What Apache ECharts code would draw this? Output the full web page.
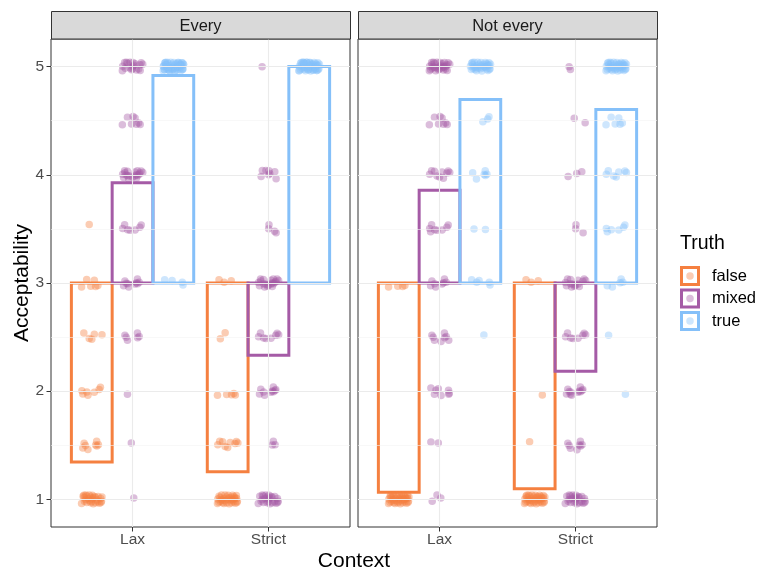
<!DOCTYPE html>
<html>
<head>
<meta charset="utf-8">
<script src="https://cdn.jsdelivr.net/npm/echarts@6/dist/echarts.min.js"></script>
<style>html,body{margin:0;padding:0;background:#fff}#c{width:759px;height:570px}</style>
</head>
<body>
<div id="c"></div>
<script>
// ---------- data ----------
const facets = ['Every', 'Not every'];
const contexts = ['Lax', 'Strict'];
const truths = ['false', 'mixed', 'true'];
const levels = [1, 1.5, 2, 2.5, 3, 3.5, 4, 4.5, 5];
const yTicks = [1, 2, 3, 4, 5];

// mean acceptability (box drawn from 3 to mean), order: false, mixed, true
const meanEveryLax = [1.345, 3.926, 4.917];
const meanEveryStrict = [1.256, 2.333, 5.0];
const meanNotLax = [1.067, 3.857, 4.695];
const meanNotStrict = [1.099, 2.185, 4.603];

// number of responses at each level (levels 1..5 by 0.5)
const everyLaxFalse = [30, 8, 7, 5, 6, 1, 0, 0, 0];
const everyLaxMixed = [1, 1, 1, 6, 10, 7, 20, 8, 20];
const everyLaxTrue = [0, 0, 0, 0, 4, 0, 0, 0, 60];
const everyStrictFalse = [35, 9, 5, 2, 3, 0, 0, 0, 0];
const everyStrictMixed = [25, 3, 10, 8, 20, 4, 8, 0, 1];
const everyStrictTrue = [0, 0, 0, 0, 0, 0, 0, 0, 50];
const notLaxFalse = [40, 0, 0, 0, 4, 0, 0, 0, 0];
const notLaxMixed = [3, 2, 8, 8, 8, 8, 10, 8, 30];
const notLaxTrue = [0, 0, 0, 1, 5, 2, 6, 3, 35];
const notStrictFalse = [40, 1, 1, 0, 3, 0, 0, 0, 0];
const notStrictMixed = [25, 8, 12, 8, 15, 3, 3, 2, 2];
const notStrictTrue = [0, 0, 1, 1, 5, 6, 7, 6, 40];

// fixed jitter pattern (normalised, hand-typed)
const jitterPattern = [
  [-0.75,0.45],[0.38,-0.8],[0.88,0.2],[-0.25,-0.3],[0.62,0.7],[-0.88,-0.65],[0.05,0.95],[0.5,-0.15],
  [-0.5,0.8],[0.95,-0.45],[-0.97,0.1],[0.12,0.3],[-0.38,-0.95],[0.75,-0.9],[-0.62,-0.05],[0.25,0.65],
  [-0.12,0.55],[0.85,0.9],[-0.72,-0.4],[0.38,0.05],[0.6,-0.55],[-0.5,-0.7],[0.0,-0.5],[-0.85,0.75],
  [0.72,0.4],[-0.25,1.0],[0.48,0.95],[-1.0,-0.95],[0.15,-1.0],[1.0,0.55],[-0.35,0.2],[0.25,-0.25],
  [-0.6,1.0],[0.65,0.15],[-0.1,-0.75],[0.9,-0.7],[-0.78,0.95],[0.35,0.5],[-0.48,-0.2],[0.02,0.02]
];
const JX = 0.075, JY = 0.04;

const colors = ['#F58040', '#A55BA6', '#85C0F9'];
const countsByFacet = [
  [[everyLaxFalse, everyLaxMixed, everyLaxTrue], [everyStrictFalse, everyStrictMixed, everyStrictTrue]],
  [[notLaxFalse, notLaxMixed, notLaxTrue], [notStrictFalse, notStrictMixed, notStrictTrue]]
];
const meansByFacet = [[meanEveryLax, meanEveryStrict], [meanNotLax, meanNotStrict]];
const DODGE = 0.3;

// ---------- layout ----------
const panels = [{left: 51, width: 299}, {left: 358, width: 299}];
const TOP = 39, HEIGHT = 488;
const font = 'Liberation Sans, Arial, sans-serif';

const grids = [], xAxes = [], yAxes = [], series = [];
panels.forEach((p, fi) => {
  grids.push({left: p.left, top: TOP, width: p.width, height: HEIGHT, show: true,
    borderColor: '#333333', borderWidth: 1, backgroundColor: '#fff', containLabel: false});
  xAxes.push({type: 'value', gridIndex: fi, min: 0.4, max: 2.6,
    axisLine: {show: false}, splitLine: {show: false},
    axisTick: {show: true, customValues: [1, 2], length: 4.5, lineStyle: {color: '#333333'}},
    axisLabel: {show: true, customValues: [1, 2], margin: 5, color: '#4D4D4D', fontSize: 15.5,
      fontFamily: font, formatter: v => contexts[Math.round(v) - 1] || ''}});
  yAxes.push({type: 'value', gridIndex: fi, min: 0.745, max: 5.255,
    axisLine: {show: false}, splitLine: {show: false},
    axisTick: {show: fi === 0, customValues: yTicks, length: 4.5, lineStyle: {color: '#333333'}},
    axisLabel: {show: fi === 0, customValues: yTicks, margin: 7, color: '#4D4D4D', fontSize: 15.5,
      fontFamily: font}});

  // grid lines
  const hMajor = yTicks.map(v => ({yAxis: v, lineStyle: {color: '#EBEBEB', width: 1.1}}));
  const hMinor = [1.5, 2.5, 3.5, 4.5].map(v => ({yAxis: v, lineStyle: {color: '#F3F3F3', width: 0.6}}));
  const vMajor = [1, 2].map(v => ({xAxis: v, lineStyle: {color: '#EBEBEB', width: 1.1}}));
  series.push({type: 'line', xAxisIndex: fi, yAxisIndex: fi, data: [], silent: true, z: 1,
    markLine: {silent: true, symbol: 'none', label: {show: false}, animation: false,
      lineStyle: {type: 'solid'}, data: hMinor.concat(hMajor, vMajor)}});

  // boxes
  truths.forEach((t, ti) => {
    const boxData = contexts.map((c, ci) => [ci + 1 + (ti - 1) * DODGE, meansByFacet[fi][ci][ti]]);
    series.push({type: 'custom', name: t, xAxisIndex: fi, yAxisIndex: fi, z: 3, silent: true,
      data: boxData,
      renderItem: (params, api) => {
        const x = api.value(0), m = api.value(1);
        const a = api.coord([x - DODGE / 2, 3]);
        const b = api.coord([x + DODGE / 2, m]);
        return {type: 'rect',
          shape: {x: Math.min(a[0], b[0]), y: Math.min(a[1], b[1]),
            width: Math.abs(b[0] - a[0]), height: Math.abs(b[1] - a[1])},
          style: {fill: 'none', stroke: colors[ti], lineWidth: 3}};
      }});
  });

  // points
  truths.forEach((t, ti) => {
    const pts = [];
    contexts.forEach((c, ci) => {
      const cnt = countsByFacet[fi][ci][ti];
      const cx = ci + 1 + (ti - 1) * DODGE;
      levels.forEach((lv, li) => {
        for (let k = 0; k < cnt[li]; k++) {
          const j = jitterPattern[(k * 7 + li * 5 + ci * 3 + ti * 11) % jitterPattern.length];
          pts.push([cx + j[0] * JX, lv + j[1] * JY]);
        }
      });
    });
    series.push({type: 'scatter', name: t, xAxisIndex: fi, yAxisIndex: fi, z: 4, silent: true,
      symbol: 'circle', symbolSize: 7.5, data: pts,
      itemStyle: {color: colors[ti], opacity: 0.4}});
  });
});

// ---------- text & legend ----------
const graphic = [];
panels.forEach((p, fi) => {
  graphic.push({type: 'rect', shape: {x: p.left + 0.5, y: 11.5, width: p.width, height: 27.5},
    style: {fill: '#D9D9D9', stroke: '#333333', lineWidth: 1}, z: 10});
  graphic.push({type: 'text', x: p.left + p.width / 2, y: 26,
    style: {text: facets[fi], fill: '#1A1A1A', font: '16.5px ' + font, align: 'center', verticalAlign: 'middle'}, z: 11});
});
graphic.push({type: 'text', x: 22, y: 283, rotation: Math.PI / 2,
  style: {text: 'Acceptability', fill: '#000', font: '21px ' + font, align: 'center', verticalAlign: 'middle'}});
graphic.push({type: 'text', x: 354, y: 561,
  style: {text: 'Context', fill: '#000', font: '21px ' + font, align: 'center', verticalAlign: 'middle'}});
graphic.push({type: 'text', x: 680, y: 244,
  style: {text: 'Truth', fill: '#000', font: '19.5px ' + font, align: 'left', verticalAlign: 'middle'}});
truths.forEach((t, ti) => {
  const cy = 276 + ti * 22.5;
  graphic.push({type: 'rect', shape: {x: 681.5, y: cy - 8.5, width: 17, height: 17},
    style: {fill: '#fff', stroke: colors[ti], lineWidth: 3}});
  graphic.push({type: 'circle', shape: {cx: 690, cy: cy, r: 3.75},
    style: {fill: colors[ti], opacity: 0.4}});
  graphic.push({type: 'text', x: 712, y: cy,
    style: {text: t, fill: '#000', font: '16.5px ' + font, align: 'left', verticalAlign: 'middle'}});
});

const chart = echarts.init(document.getElementById('c'), null, {renderer: 'canvas'});
chart.setOption({
  animation: false,
  backgroundColor: '#fff',
  grid: grids, xAxis: xAxes, yAxis: yAxes, series: series, graphic: graphic
});
</script>
</body>
</html>
